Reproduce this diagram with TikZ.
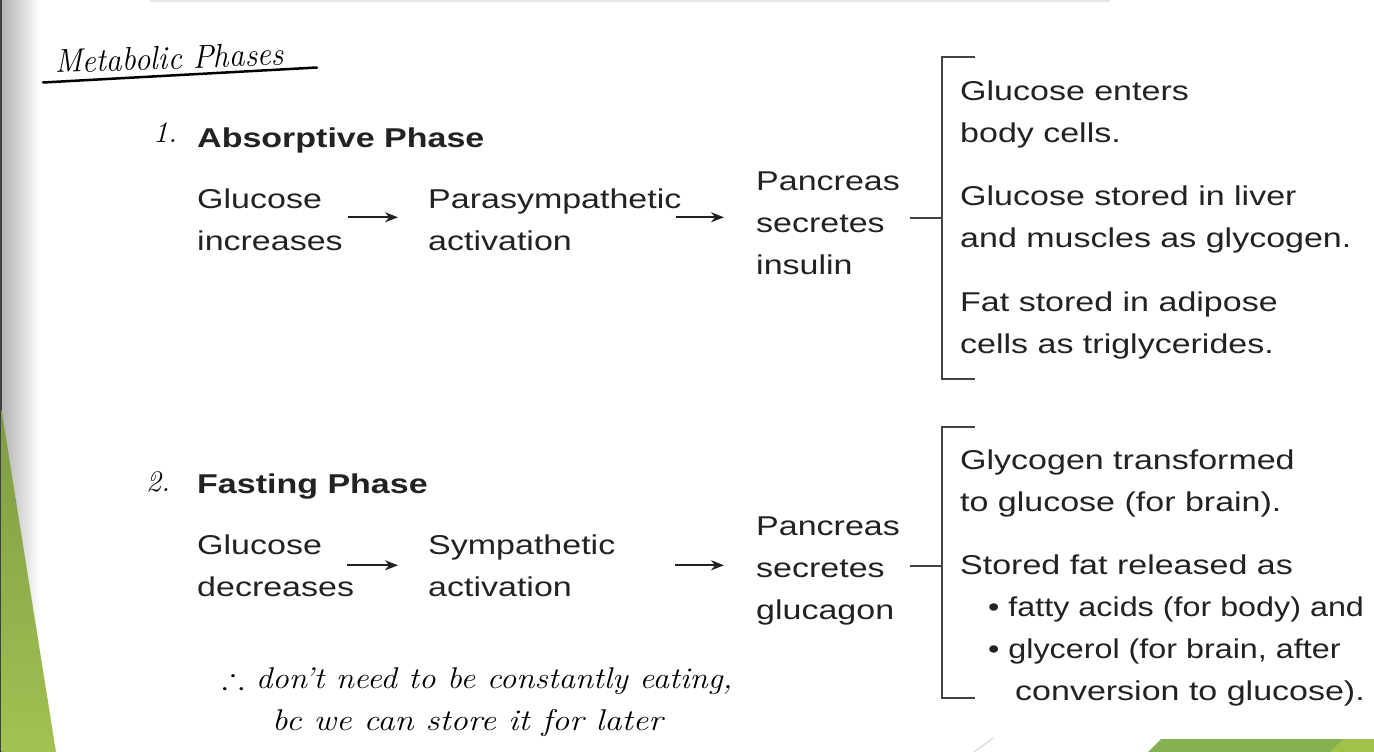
\documentclass[tikz,border=0pt]{standalone}
\usepackage{fontspec}
\usepackage{amssymb}
\usepackage{graphicx}
\usetikzlibrary{arrows.meta}
\newfontfamily\lsans{Liberation Sans}[FakeStretch=1.25]
\definecolor{ink}{HTML}{222222}
\definecolor{gdark}{HTML}{7E9B44}
\definecolor{glight}{HTML}{A2C252}
\definecolor{gband}{HTML}{86B152}
\definecolor{gband2}{HTML}{A0C24B}
\begin{document}
\begin{tikzpicture}[x=1pt,y=-1pt,
  txt/.style={font=\lsans\fontsize{27.2}{42}\selectfont, text=ink, align=left, inner sep=0pt, anchor=base west},
  ttl/.style={txt, font=\lsans\bfseries\fontsize{27.2}{42}\selectfont},
  arr/.style={draw=ink, line width=2pt, -{Stealth[length=13pt,width=10pt]}},
  brk/.style={draw=ink!85, line width=1.6pt},
  hand/.style={font=\itshape\fontsize{30}{34}\selectfont, inner sep=0pt, anchor=base west, text=black}]
% canvas
\useasboundingbox (0,0) rectangle (1374,752);
\fill[white] (0,0) rectangle (1374,752);
\shade[left color=black!30, right color=white] (1.5,0) rectangle (40,752);
\fill[black!75] (0,0) rectangle (1.5,752);
\fill[black!10] (150,0) rectangle (1110,2.5);
\shade[top color=gdark, bottom color=glight] (1.5,410) -- (56,752) -- (1.5,752) -- cycle;
\fill[gband] (1148,752) -- (1161,739) -- (1374,739) -- (1374,752) -- cycle;
\fill[gband2] (1330,752) -- (1343,739) -- (1374,739) -- (1374,752) -- cycle;
\draw[black!20, line width=0.8pt] (974,752) -- (993,738);

% handwritten notes
\node[hand, rotate=2, font=\itshape\fontsize{33}{36}\selectfont] (mp) at (55,73) {\scalebox{0.95}[1]{Metabolic Phases}};
\draw[black, line width=2.5pt, line cap=round] (43,82.5) -- (317,67.5);
\node[hand] (n1lbl) at (153,142) {1.};
\node[hand] (n2lbl) at (146,491) {2.};
\node[hand] (note1) at (222,688) {\scalebox{1.1}[1]{$\therefore$\ don't need to be constantly eating,}};
\node[hand] (note2) at (272,730) {\scalebox{1.15}[1]{bc we can store it for later}};

% phase 1
\node[ttl] (t1) at (197,147) {Absorptive Phase};
\node[txt] (g1) at (197,250) {Glucose\\increases};
\node[txt] (s1) at (428,250) {Parasympathetic\\activation};
\node[txt] (p1) at (756,274) {Pancreas\\secretes\\insulin};
\node[txt] (a1) at (960,142) {Glucose enters\\body cells.};
\node[txt] (b1) at (960,247) {Glucose stored in liver\\and muscles as glycogen.};
\node[txt] (c1) at (960,353) {Fat stored in adipose\\cells as triglycerides.};
\draw[arr] ([xshift=5pt,yshift=2pt]g1.east) -- ([xshift=-30pt,yshift=2pt]s1.west);
\draw[arr] ([xshift=-6pt,yshift=2pt]s1.east) -- ([xshift=-32pt,yshift=2pt]s1.east -| p1.west);
\coordinate (br1t) at (975,57);
\coordinate (br1b) at (975,379);
\coordinate (br1m) at (942,218);
\draw[brk] (br1t) -- ++(-33,0) |- (br1b);
\draw[brk] ([xshift=10pt]p1.east |- br1m) -- (br1m);

% phase 2
\node[ttl] (t2) at (197,493) {Fasting Phase};
\node[txt] (g2) at (197,596) {Glucose\\decreases};
\node[txt] (s2) at (428,596) {Sympathetic\\activation};
\node[txt] (p2) at (756,619) {Pancreas\\secretes\\glucagon};
\node[txt] (a2) at (960,511) {Glycogen transformed\\to glucose (for brain).};
\node[txt] (b2) at (960,700) {Stored fat released as\\\hspace*{28pt}\scalebox{0.95}[1]{•\ fatty acids (for body) and}\\\hspace*{28pt}\scalebox{0.95}[1]{•\ glycerol (for brain, after}\\\hspace*{55pt}conversion to glucose).};
\draw[arr] ([xshift=-7pt]g2.east) -- ([xshift=-30pt]s2.west);
\draw[arr] ([xshift=60pt]s2.east) -- ([xshift=-32pt]s2.east -| p2.west);
\coordinate (br2t) at (975,427);
\coordinate (br2b) at (975,698);
\coordinate (br2m) at (942,566);
\draw[brk] (br2t) -- ++(-33,0) |- (br2b);
\draw[brk] ([xshift=10pt]p2.east |- br2m) -- (br2m);
\end{tikzpicture}
\end{document}
